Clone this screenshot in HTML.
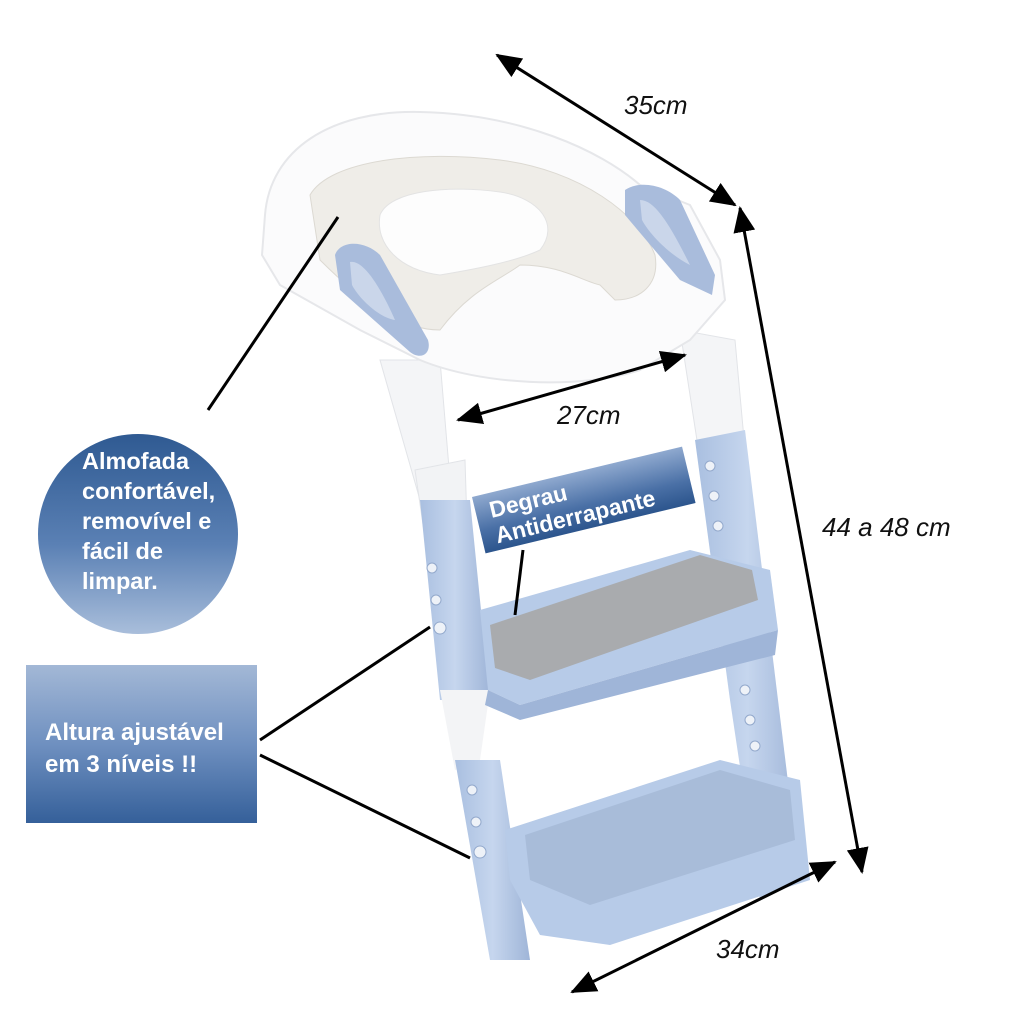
<!DOCTYPE html>
<html><head><meta charset="utf-8"><style>
html,body{margin:0;padding:0;background:#fff;}
svg{display:block}
</style></head><body>
<svg width="1024" height="1024" viewBox="0 0 1024 1024" xmlns="http://www.w3.org/2000/svg" font-family="Liberation Sans, Arial, sans-serif">
<defs>
<linearGradient id="cg" x1="0" y1="0" x2="0" y2="1"><stop offset="0" stop-color="#2f5a92"/><stop offset="0.55" stop-color="#5a80b4"/><stop offset="1" stop-color="#a9bedb"/></linearGradient>
<linearGradient id="bg" x1="0" y1="0" x2="0" y2="1"><stop offset="0" stop-color="#a3b8d6"/><stop offset="0.5" stop-color="#6f90c0"/><stop offset="1" stop-color="#35609a"/></linearGradient>
<linearGradient id="dg" x1="0" y1="0" x2="0" y2="1"><stop offset="0" stop-color="#8fa9cf"/><stop offset="0.6" stop-color="#4a70a6"/><stop offset="1" stop-color="#2c558d"/></linearGradient>
<linearGradient id="blu" x1="0" y1="0" x2="1" y2="0"><stop offset="0" stop-color="#a9bfe0"/><stop offset="0.5" stop-color="#c6d6ee"/><stop offset="1" stop-color="#9fb5d8"/></linearGradient>
<marker id="ah" markerWidth="26" markerHeight="22" refX="24" refY="11" orient="auto-start-reverse" markerUnits="userSpaceOnUse" viewBox="0 0 26 22"><path d="M0,0 L26,11 L0,22 z" fill="#000"/></marker>
</defs>

<!-- legs back (right) -->
<path d="M680 330 L735 340 L745 450 L700 460 Z" fill="#f4f5f7" stroke="#e2e4e8"/>
<path d="M695 440 L745 430 L800 880 L760 900 L730 700 Z" fill="url(#blu)"/>
<!-- left leg -->
<path d="M380 360 L440 360 L450 480 L420 500 Z" fill="#f4f5f7" stroke="#e2e4e8"/>
<path d="M415 470 L465 460 L470 620 L440 640 Z" fill="#f2f3f5" stroke="#e2e4e8"/>
<path d="M420 500 L470 500 L490 700 L440 700 Z" fill="url(#blu)"/>
<path d="M440 690 L490 690 L480 760 L455 770 Z" fill="#f3f4f6"/>
<path d="M455 760 L500 760 L530 960 L490 960 Z" fill="url(#blu)"/>
<g fill="#eef2f8" stroke="#93a9cc">
<circle cx="710" cy="466" r="5"/><circle cx="714" cy="496" r="5"/><circle cx="718" cy="526" r="5"/>
<circle cx="745" cy="690" r="5"/><circle cx="750" cy="720" r="5"/><circle cx="755" cy="746" r="5"/>
<circle cx="432" cy="568" r="5"/><circle cx="436" cy="600" r="5"/><circle cx="440" cy="628" r="6"/>
<circle cx="472" cy="790" r="5"/><circle cx="476" cy="822" r="5"/><circle cx="480" cy="852" r="6"/>
</g>

<!-- seat -->
<path d="M265 215 C270 150 330 110 420 112 C520 114 600 150 640 185 L690 205 L720 260 L725 300 L690 340 L640 370 C580 390 480 385 420 360 L360 330 L280 285 L262 255 Z" fill="#fbfbfc" stroke="#e6e7ea" stroke-width="2"/>
<path d="M310 195 C330 160 420 150 500 160 C580 170 640 215 655 255 C660 285 640 300 615 300 L600 285 C580 280 560 265 520 265 C500 280 470 290 440 330 C400 330 360 300 320 260 Z" fill="#efede8" stroke="#dcd9d2"/>
<path d="M380 215 C390 190 450 185 500 192 C540 198 560 225 540 250 C515 262 470 270 440 275 C400 270 375 245 380 215 Z" fill="#fdfdfd" stroke="#e3e3e3"/>
<path d="M335 255 C340 240 365 240 380 255 L428 340 C432 355 420 360 410 352 L340 290 Z" fill="#a9bcdc"/>
<path d="M350 262 C360 260 375 275 395 320 C380 318 360 300 352 285 Z" fill="#cad6ea"/>
<path d="M625 190 C640 180 665 185 680 200 L715 275 L712 295 L680 280 L625 215 Z" fill="#a9bcdc"/>
<path d="M640 200 C655 200 670 225 690 265 C670 255 650 235 642 220 Z" fill="#cad6ea"/>

<!-- upper step -->
<path d="M480 610 L690 550 L770 570 L778 630 L520 705 L488 690 Z" fill="#b7cbe8"/>
<path d="M490 625 L700 555 L752 570 L758 600 L530 680 L495 668 Z" fill="#a9abae"/>
<path d="M488 690 L520 705 L778 630 L775 655 L520 720 L485 705 Z" fill="#9fb5d8"/>
<!-- lower step -->
<path d="M505 830 L720 760 L800 780 L810 880 L610 945 L540 935 L510 880 Z" fill="#b7cbe8"/>
<path d="M525 835 L720 770 L790 790 L795 840 L590 905 L530 880 Z" fill="#a8bcd9"/>

<g stroke="#000" stroke-width="3" fill="none">
<line x1="208" y1="410" x2="338" y2="217"/>
<line x1="515" y1="615" x2="523" y2="550"/>
<line x1="260" y1="740" x2="430" y2="627"/>
<line x1="260" y1="755" x2="470" y2="858"/>
<line x1="497" y1="55" x2="735" y2="205" marker-end="url(#ah)" marker-start="url(#ah)"/>
<line x1="740" y1="208" x2="862" y2="872" marker-end="url(#ah)" marker-start="url(#ah)"/>
<line x1="458" y1="420" x2="685" y2="355" marker-end="url(#ah)" marker-start="url(#ah)"/>
<line x1="572" y1="992" x2="835" y2="862" marker-end="url(#ah)" marker-start="url(#ah)"/>
</g>
<g font-style="italic" font-size="26" fill="#111">
<text x="624" y="114">35cm</text>
<text x="557" y="424">27cm</text>
<text x="822" y="536">44 a 48 cm</text>
<text x="716" y="958">34cm</text>
</g>

<circle cx="138" cy="534" r="100" fill="url(#cg)"/>
<g fill="#fff" font-weight="bold" font-size="23.5">
<text x="82" y="469">Almofada</text>
<text x="82" y="499">confortável,</text>
<text x="82" y="529">removível e</text>
<text x="82" y="559">fácil de</text>
<text x="82" y="589">limpar.</text>
</g>
<rect x="26" y="665" width="231" height="158" fill="url(#bg)"/>
<g fill="#fff" font-weight="bold" font-size="24">
<text x="45" y="740">Altura ajustável</text>
<text x="45" y="772">em 3 níveis !!</text>
</g>
<g transform="translate(472,497) rotate(-13.5)">
<rect x="0" y="0" width="216" height="58" fill="url(#dg)"/>
<text x="14" y="25" fill="#fff" font-weight="bold" font-size="23">Degrau</text>
<text x="14" y="51" fill="#fff" font-weight="bold" font-size="23">Antiderrapante</text>
</g>
</svg>
</body></html>
